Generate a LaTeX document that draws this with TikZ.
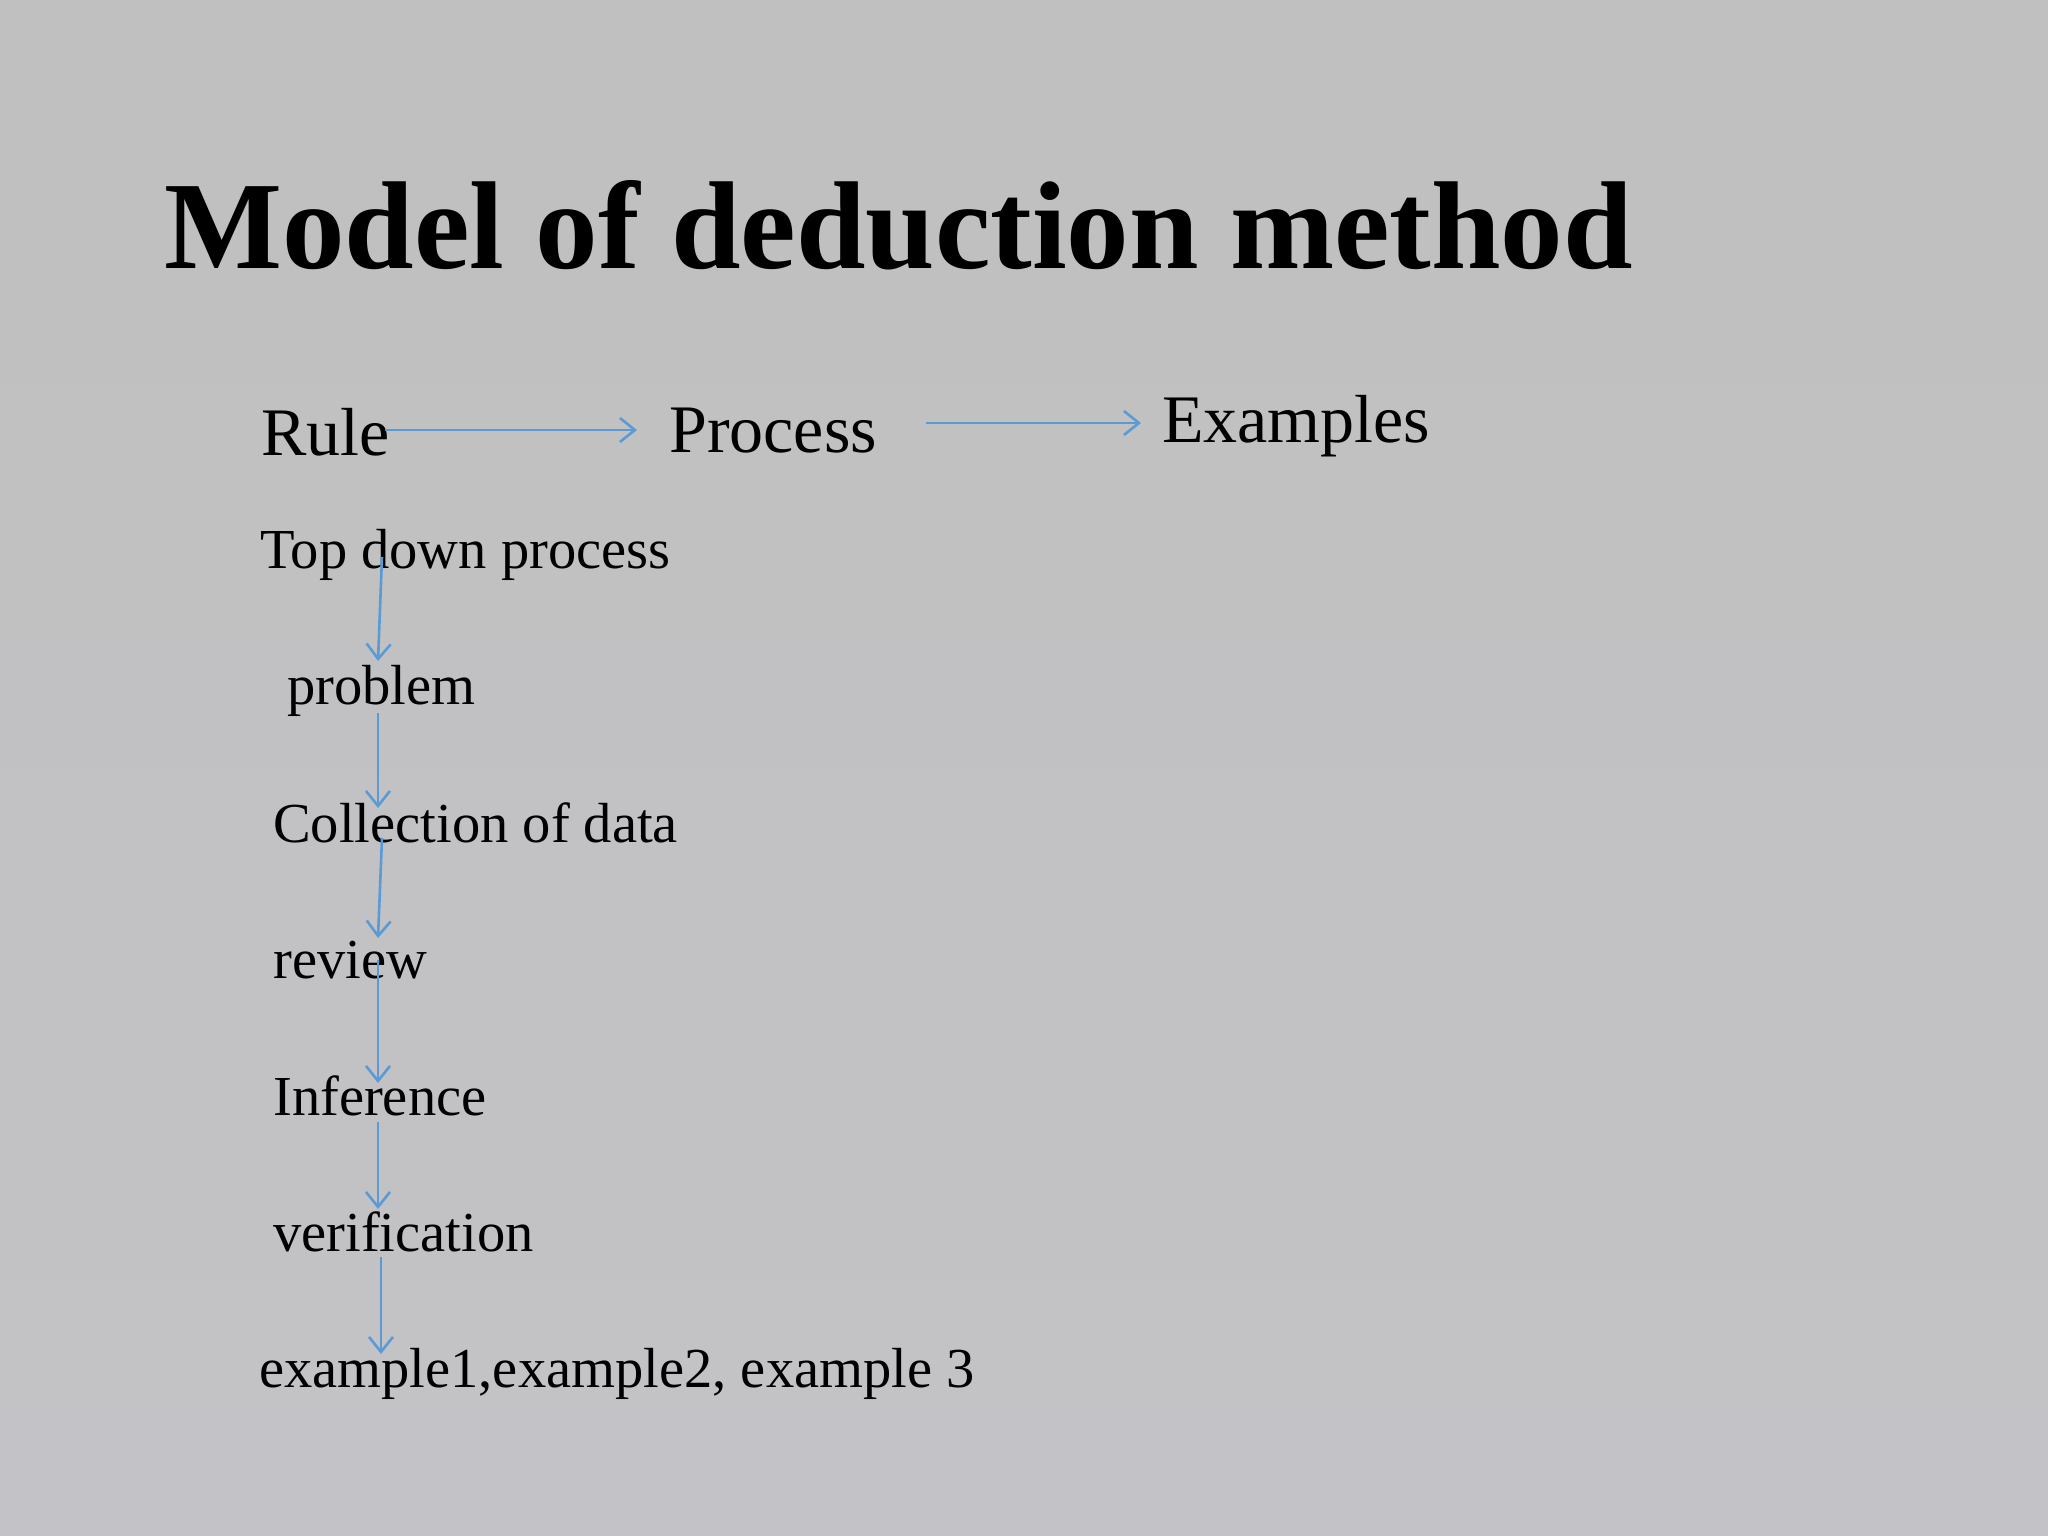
\documentclass[tikz,border=0pt]{standalone}
\usepackage{fontspec}
\setmainfont{Liberation Serif}
\usetikzlibrary{arrows.meta}
\definecolor{bgtop}{HTML}{C0C0C0}
\definecolor{bgbot}{HTML}{C3C2C6}
\definecolor{arrowblue}{HTML}{5B9BD5}
\begin{document}
\begin{tikzpicture}[x=1pt,y=-1pt,
  lbl/.style={anchor=base west,inner sep=0pt,font=\fontsize{56.5}{66}\selectfont},
  big/.style={anchor=base west,inner sep=0pt,font=\fontsize{68}{80}\selectfont},
  ttl/.style={anchor=base west,inner sep=0pt,font=\fontsize{125}{150}\selectfont\bfseries},
  conn/.style={draw=arrowblue,line width=2.6pt,-{Straight Barb[length=15pt,width=24pt,line width=2.6pt]}}]
\shade[top color=bgtop,bottom color=bgbot] (0,0) rectangle (2048,1536);
\useasboundingbox (0,0) rectangle (2048,1536);
\node[ttl] (title) at (164,268) {Model of deduction method};
\node[big] (rule) at (261,455) {Rule};
\node[big] (process) at (669,452) {Process};
\node[big] (examples) at (1162,442) {Examples};
\node[lbl] (top) at (260,568) {Top down process};
\node[lbl] (problem) at (287,704) {problem};
\node[lbl] (coll) at (273,842) {Collection of data};
\node[lbl] (review) at (273,978) {review};
\node[lbl] (infer) at (273,1115) {Inference};
\node[lbl] (verif) at (273,1251) {verification};
\node[lbl] (ex) at (259,1387) {example1,example2, example 3};
% connector end points
\coordinate (r1) at (385,430);   \coordinate (p1) at (637,430);
\coordinate (p2) at (926,423);   \coordinate (e2) at (1141,423);
\coordinate (t1) at (382,557);   \coordinate (pb1) at (378,661);
\coordinate (pb2) at (378,713);  \coordinate (c1) at (378,808);
\coordinate (c2) at (382,838);   \coordinate (rv1) at (378,938);
\coordinate (rv2) at (378,960);  \coordinate (i1) at (378,1083);
\coordinate (i2) at (378,1122);  \coordinate (v1) at (378,1209);
\coordinate (v2) at (381,1257);  \coordinate (x1) at (381,1354);
\draw[conn] (r1) -- (p1);
\draw[conn] (p2) -- (e2);
\draw[conn] (t1) -- (pb1);
\draw[conn] (pb2) -- (c1);
\draw[conn] (c2) -- (rv1);
\draw[conn] (rv2) -- (i1);
\draw[conn] (i2) -- (v1);
\draw[conn] (v2) -- (x1);
\end{tikzpicture}
\end{document}
